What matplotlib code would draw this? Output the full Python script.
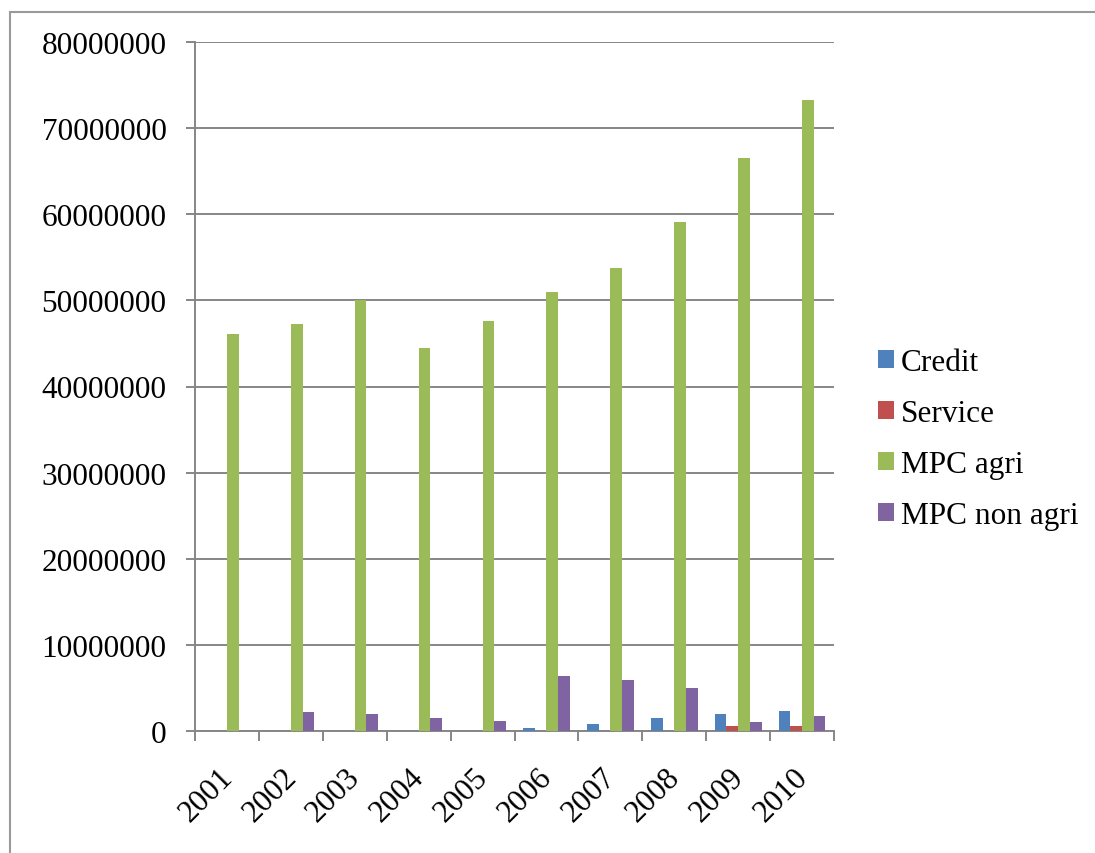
import numpy as np
import matplotlib
matplotlib.use("Agg")
import matplotlib.pyplot as plt
import matplotlib.transforms as mtransforms
from matplotlib.patches import Rectangle
from matplotlib.ticker import FuncFormatter, FixedLocator

years = ["2001", "2002", "2003", "2004", "2005", "2006", "2007", "2008", "2009", "2010"]
series_names = ["Credit", "Service", "MPC agri", "MPC non agri"]
credit = [0, 0, 0, 0, 0, 390000, 890000, 1510000, 2050000, 2400000]
service = [0, 0, 0, 0, 0, 0, 0, 0, 660000, 660000]
mpc_agri = [46100000, 47300000, 50000000, 44500000, 47600000,
            51000000, 53800000, 59100000, 66500000, 73200000]
mpc_non_agri = [0, 2250000, 2000000, 1600000, 1160000,
                6430000, 5960000, 5030000, 1090000, 1820000]
colors = ["#4F81BD", "#C0504D", "#9BBB59", "#8064A2"]

plt.rcParams["font.family"] = ["Liberation Serif", "DejaVu Serif"]

fig = plt.figure(figsize=(10.95, 8.54), dpi=100)
ax = fig.add_axes([195 / 1095, 1 - 732.3 / 854, (834 - 195) / 1095, (732.3 - 42.7) / 854])

x = np.arange(len(years))
w = 0.183
data = [credit, service, mpc_agri, mpc_non_agri]
for i, (name, vals) in enumerate(zip(series_names, data)):
    ax.bar(x + (i - 1.5) * w, vals, width=w, color=colors[i], label=name,
           linewidth=0, zorder=3)

ax.set_xlim(-0.5, len(years) - 0.5)
ax.set_ylim(0, 80000000)
ax.set_yticks(np.arange(0, 80000001, 10000000))
ax.yaxis.set_major_formatter(FuncFormatter(lambda v, p: "%d" % v))

# category boundaries as ticks, labels at the centres
ax.xaxis.set_major_locator(FixedLocator(np.arange(-0.5, len(years), 1.0)))
ax.xaxis.set_minor_locator(FixedLocator(x))
ax.set_xticklabels([], minor=False)
ax.set_xticklabels(years, minor=True, rotation=45, ha="right", rotation_mode="anchor")
ax.tick_params(axis="x", which="minor", length=0, pad=22, labelsize=22.5)
ax.tick_params(axis="x", which="major", length=7.5, width=1.4, color="#868686")
ax.tick_params(axis="y", length=6.5, width=1.4, color="#868686", pad=14, labelsize=22.5)
shift = mtransforms.ScaledTranslation(-9 / 100, 0, fig.dpi_scale_trans)
for lab in ax.get_xticklabels(minor=True):
    lab.set_transform(lab.get_transform() + shift)

ax.grid(axis="y", color="#868686", linewidth=1.4, zorder=0)
ax.set_axisbelow(True)
for s in ["top", "right"]:
    ax.spines[s].set_visible(False)
for s in ["left", "bottom"]:
    ax.spines[s].set_color("#868686")
    ax.spines[s].set_linewidth(1.4)

fig.legend(loc="center left", bbox_to_anchor=(877.7 / 1095, 1 - 440 / 854),
           frameon=False, fontsize=22.5, handlelength=0.52, handleheight=0.5,
           handletextpad=0.21, labelspacing=0.71, borderpad=0, borderaxespad=0)

# outer frame of the chart area
fig.patches.append(Rectangle((10 / 1095, -0.1), 1.2, 1 - 13 / 854 + 0.1,
                             transform=fig.transFigure, fill=False,
                             edgecolor="#9a9a9a", linewidth=1.5))

fig.savefig("out.png", dpi=100)
